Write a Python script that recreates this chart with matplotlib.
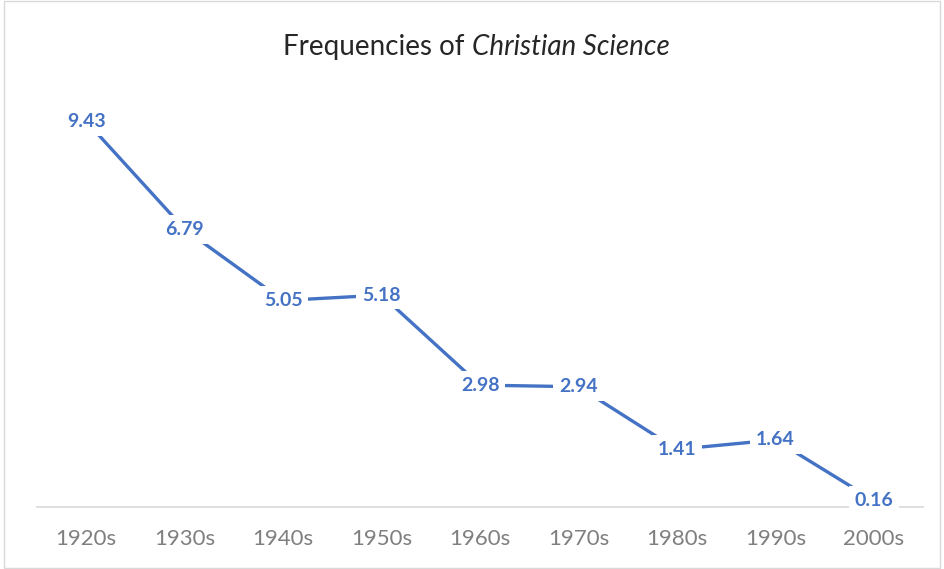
import matplotlib
matplotlib.use("Agg")
import matplotlib.pyplot as plt
from matplotlib.patches import Rectangle

categories = ["1920s", "1930s", "1940s", "1950s", "1960s", "1970s", "1980s", "1990s", "2000s"]
values = [9.43, 6.79, 5.05, 5.18, 2.98, 2.94, 1.41, 1.64, 0.16]

blue = "#4472C4"
fam = ["Lato", "DejaVu Sans"]

fig = plt.figure(figsize=(9.44, 5.69), dpi=100)
ax = fig.add_axes([37/944, 62/569, 886/944, 409/569])

x = list(range(len(categories)))
ax.plot(x, values, color=blue, linewidth=2.4, solid_capstyle="butt", zorder=2)
for xi, v in zip(x, values):
    ax.text(xi, v, f"{v:.2f}", ha="center", va="center", color=blue,
            fontsize=14, fontweight="bold", family=fam, zorder=3,
            bbox=dict(boxstyle="square,pad=0.3", fc="white", ec="none"))

ax.set_xlim(-0.5, len(categories) - 0.5)
ax.set_ylim(0, 10)
ax.set_xticks(x)
ax.set_xticklabels(categories, fontsize=16, color="#7f7f7f", family=fam)
ax.tick_params(axis="x", length=0, pad=16)
ax.set_yticks([])
for s in ["top", "right", "left"]:
    ax.spines[s].set_visible(False)
ax.spines["bottom"].set_color("#d9d9d9")
ax.spines["bottom"].set_linewidth(1.2)

fig.text(0.5, 1 - 47/569, "Frequencies of ", ha="right", va="center",
         fontsize=20, color="#262626", family=fam)
fig.text(0.5, 1 - 47/569, "Christian Science", ha="left", va="center",
         fontsize=20, color="#262626", family=fam, style="italic")

fig.patches.append(Rectangle((4/944, 0.002), 1 - 8/944, 0.996, transform=fig.transFigure,
                             fill=False, ec="#d9d9d9", lw=1))

fig.savefig("out.png", dpi=100)
